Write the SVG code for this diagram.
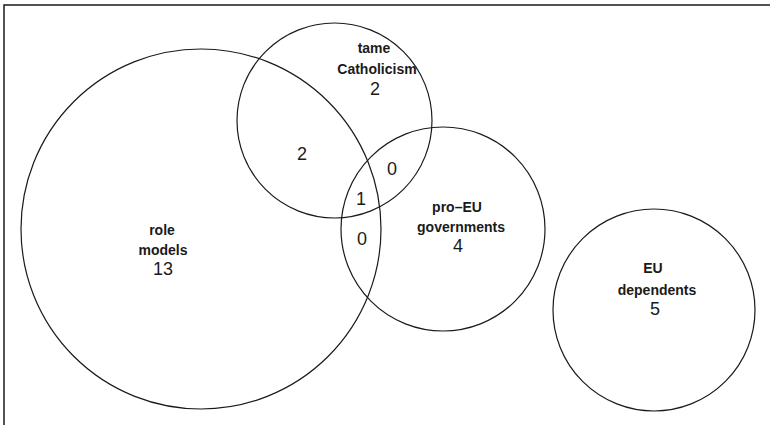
<svg xmlns="http://www.w3.org/2000/svg" width="770" height="425" viewBox="0 0 770 425">
<style>
.set{fill:none;stroke:#1a1a1a;stroke-width:1.2}
.lbl{font-family:"Liberation Sans",Arial,sans-serif;font-weight:bold;font-size:14px;fill:#1a1a1a;text-anchor:middle}
.num{font-family:"Liberation Sans",Arial,sans-serif;font-size:18px;fill:#1a1a1a;text-anchor:middle}
</style>
<rect width="770" height="425" fill="#fff"/>
<path d="M4,425 V5 H770" fill="none" stroke="#1a1a1a" stroke-width="1.5"/>
<g id="role-models">
<circle class="set" cx="201" cy="229" r="180"/>
<text class="lbl" x="162" y="235">role</text>
<text class="lbl" x="163" y="255">models</text>
<text class="num" x="163" y="275">13</text>
</g>
<g id="tame-catholicism">
<circle class="set" cx="334.5" cy="120.5" r="97.5"/>
<text class="lbl" x="374" y="53">tame</text>
<text class="lbl" x="377" y="74">Catholicism</text>
<text class="num" x="375" y="95">2</text>
</g>
<g id="pro-eu-governments">
<circle class="set" cx="443" cy="229" r="102"/>
<text class="lbl" x="457" y="212">pro–EU</text>
<text class="lbl" x="461" y="232">governments</text>
<text class="num" x="458" y="252">4</text>
</g>
<g id="eu-dependents">
<circle class="set" cx="654" cy="310" r="101"/>
<text class="lbl" x="653" y="273">EU</text>
<text class="lbl" x="657" y="295">dependents</text>
<text class="num" x="655" y="315">5</text>
</g>
<g id="overlaps">
<text class="num" x="302" y="160">2</text>
<text class="num" x="392" y="175">0</text>
<text class="num" x="361" y="205">1</text>
<text class="num" x="362" y="245">0</text>
</g>
</svg>
